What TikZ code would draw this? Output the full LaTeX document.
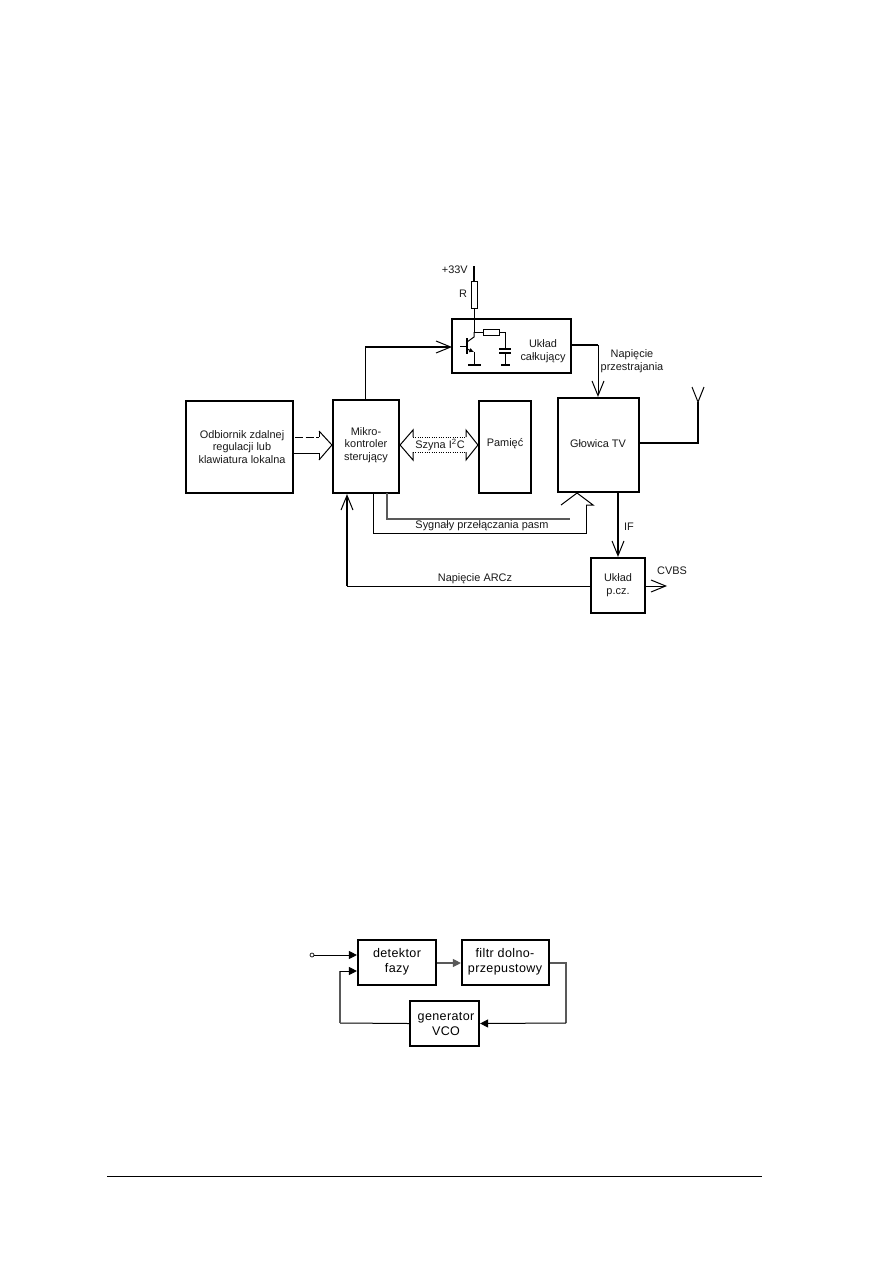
\documentclass[tikz,border=0pt]{standalone}
\usepackage{fontspec}
\setmainfont{Liberation Sans}
\usetikzlibrary{arrows.meta,calc}
\newfontfamily\screenfont[LetterSpace=3]{Liberation Sans}
\newcommand{\blk}[6][]{%
  \pgfmathsetmacro{\bw}{(#4-#2)*0.75}%
  \pgfmathsetmacro{\bh}{(#5-#3)*0.75}%
  \node[blockbox,minimum width=\bw pt,minimum height=\bh pt,#1] (#6) at ({(#2+#4)/2},{(#3+#5)/2}) {};}
\tikzset{
  x=0.75pt,y=-0.75pt,
  blockbox/.style={draw=black,line width=1.6pt,inner sep=0pt,fill=none},
  label/.style={font=\fontsize{8.2pt}{9.6pt}\selectfont,align=center,inner sep=0pt,text=black!90},
  lowlabel/.style={font=\screenfont\fontsize{9.4pt}{11.6pt}\selectfont,align=center,inner sep=0pt},
  wire/.style={draw=black,line width=0.75pt},
  heavy/.style={draw=black,line width=1.2pt},
  greywire/.style={draw=black!65,line width=0.8pt},
  barb/.style={-{Straight Barb[length=11pt,width=9pt,line width=0.75pt]}},
  solidtip/.style={-{Triangle[length=6pt,width=6pt]}},
  part/.style={draw=black,line width=0.7pt,inner sep=0pt,fill=white},
}
\begin{document}
\begin{tikzpicture}
\useasboundingbox[fill=white] (0,0) rectangle (893,1263);

% upper diagram: blocks
\blk{186}{401}{293}{493}{odb}
\blk{333}{400}{399}{493}{mk}
\blk{479}{401}{531}{493}{mem}
\blk{558}{398}{639}{492}{tv}
\blk{452}{319}{571}{373}{int}
\blk{591}{558}{645}{613}{pcz}

\node[label] (todb) at (242,447) {Odbiornik zdalnej\\regulacji lub\\klawiatura lokalna};
\node[label] (tmk) at (366,445) {Mikro-\\kontroler\\sterujący};
\node[label] (tmem) at (505,444) {Pamięć};
\node[label] (ttv) at (598,444) {Głowica TV};
\node[label] (tint) at (543,351) {Układ\\całkujący};
\node[label] (tpcz) at (618,585) {Układ\\p.cz.};

% supply rail, resistor and integrator
\coordinate (vcc) at (474,266);
\node[part,minimum width=4.5pt,minimum height=20pt] (r) at (474,295) {};
\node[label,anchor=east] (tvcc) at (468,270) {+33V};
\node[label] (tr) at (463,294) {R};
\draw[heavy] (vcc) -- (r.north);
\coordinate (col) at (474,332);
\coordinate (emi) at (474,352);
\coordinate (gnd1) at (474,365);
\coordinate (bar) at (467,346);
\coordinate (bs) at (460,346);
\draw[wire] (r.south) -- (col);
\draw[wire] (col) -- (474,337) -- (467,342);
\draw[heavy] (467,338) -- (467,354);
\draw[wire,-{Latex[length=3.5pt,width=3.5pt]}] (467,349) -- (emi);
\draw[wire] (emi) -- (gnd1);
\draw[wire] (bs) -- (bar);
\draw[heavy] (468,365) -- (481,365);
\node[part,minimum width=12pt,minimum height=4.5pt] (rc) at (491,332) {};
\coordinate (cwire) at (505,332);
\coordinate (cplate1) at (505,349);
\coordinate (cplate2) at (505,353);
\coordinate (gnd2) at (505,365);
\draw[wire] (col) -- (rc.west);
\draw[wire] (rc.east) -- (cwire) -- (cplate1);
\draw[wire] (cplate2) -- (gnd2);
\draw[heavy] (499,349) -- (511,349);
\draw[heavy] (499,353) -- (511,353);
\draw[heavy] (501,365) -- (510,365);

% control and tuning paths
\coordinate (mkup) at (365,347);
\coordinate (intin) at (452,347);
\draw[wire] (mk.north -| 365,0) -- (mkup);
\draw[heavy,barb] (mkup) -- (intin);
\coordinate (intout) at (571,345);
\coordinate (tun) at (598,345);
\draw[heavy] (intout) -- (tun);
\draw[wire,barb] (tun) -- (tun |- tv.north);
\node[label] (ttun) at (632,361) {Napięcie\\przestrajania};

% antenna
\coordinate (ant) at (698,402);
\coordinate (antb) at (698,443);
\draw[wire] (692,387) -- (ant) -- (704,387);
\draw[heavy] (ant) -- (antb) -- (antb -| tv.east);

% hollow input arrow
\coordinate (h1) at (319,431);
\coordinate (h2) at (319,460);
\coordinate (htip) at (mk.west |- 0,445);
\draw[wire,dashed,dash pattern=on 6pt off 2pt] (295,437) -- (319,437);
\draw[wire] (293,453) -- (319,453);
\draw[wire] (h1) -- (319,437);
\draw[wire] (319,453) -- (h2);
\draw[wire] (h1) -- (htip) -- (h2);

% I2C bus
\coordinate (bl) at (mk.east |- 0,445);
\coordinate (br) at (mem.west |- 0,445);
\draw[wire] (413,437) -- (413,430) -- (bl) -- (413,460) -- (413,452);
\draw[wire] (466,437) -- (466,430) -- (br) -- (466,460) -- (466,452);
\draw[wire,densely dotted] (413,437) -- (466,437);
\draw[wire,densely dotted] (413,452) -- (466,452);
\node[label] (tbus) at (440,445) {Szyna I\textsuperscript{2}C};

% band switching lines
\coordinate (b1) at (373,533);
\coordinate (b2) at (586,533);
\coordinate (b3) at (586,505);
\coordinate (c1) at (387,519);
\coordinate (c2) at (570,519);
\draw[wire] (373,493) -- (b1) -- (b2) -- (b3);
\draw[greywire,line width=1pt] (387,493) -- (c1) -- (c2);
\coordinate (bt) at (577,493);
\draw[wire] (561,505) -- (bt) -- (593,505) -- (b3);
\node[label] (tband) at (482,526) {Sygnały przełączania pasm};

% IF, AGC, CVBS
\draw[heavy,barb] (tv.south -| pcz.north) -- (pcz.north);
\node[label] (tif) at (629,527) {IF};
\coordinate (arc) at (347,586);
\draw[wire] (pcz.west |- arc) -- (arc);
\draw[wire,line width=1pt,barb] (arc) -- (arc |- mk.south);
\node[label] (tarc) at (475,579) {Napięcie ARCz};
\coordinate (cv) at (667,586);
\draw[wire,barb] (pcz.east |- cv) -- (cv);
\node[label] (tcv) at (672,571) {CVBS};

% lower diagram: phase-locked loop
\blk{358}{940}{436}{985}{det}
\blk{462}{940}{549}{985}{lpf}
\blk{410}{1001}{479}{1046}{vco}
\node[lowlabel] (tdet) at (397,962) {detektor\\fazy};
\node[lowlabel] (tlpf) at (505,962) {filtr dolno-\\przepustowy};
\node[lowlabel] (tvco) at (446,1024) {generator\\VCO};

\node[draw=black,circle,minimum size=3pt,inner sep=0pt,line width=0.5pt] (in) at (312,955) {};
\draw[wire,solidtip] (in) -- (in -| det.west);
\draw[greywire,solidtip] (det.east |- 0,963) -- (lpf.west |- 0,963);
\coordinate (fbl) at (340,1023);
\coordinate (fbt) at (340,971);
\draw[wire] (vco.west) -- (fbl);
\draw[greywire] (fbl) -- (fbt);
\draw[wire,solidtip] (fbt) -- (fbt -| det.west);
\coordinate (o1) at (566,963);
\coordinate (o2) at (566,1023);
\draw[greywire] (lpf.east |- o1) -- (o1) -- (o2);
\draw[wire,solidtip] (o2) -- (vco.east);

% footer rule
\coordinate (fl) at (107,1176);
\coordinate (fr) at (762,1176);
\draw[wire] (fl) -- (fr);
\end{tikzpicture}
\end{document}
